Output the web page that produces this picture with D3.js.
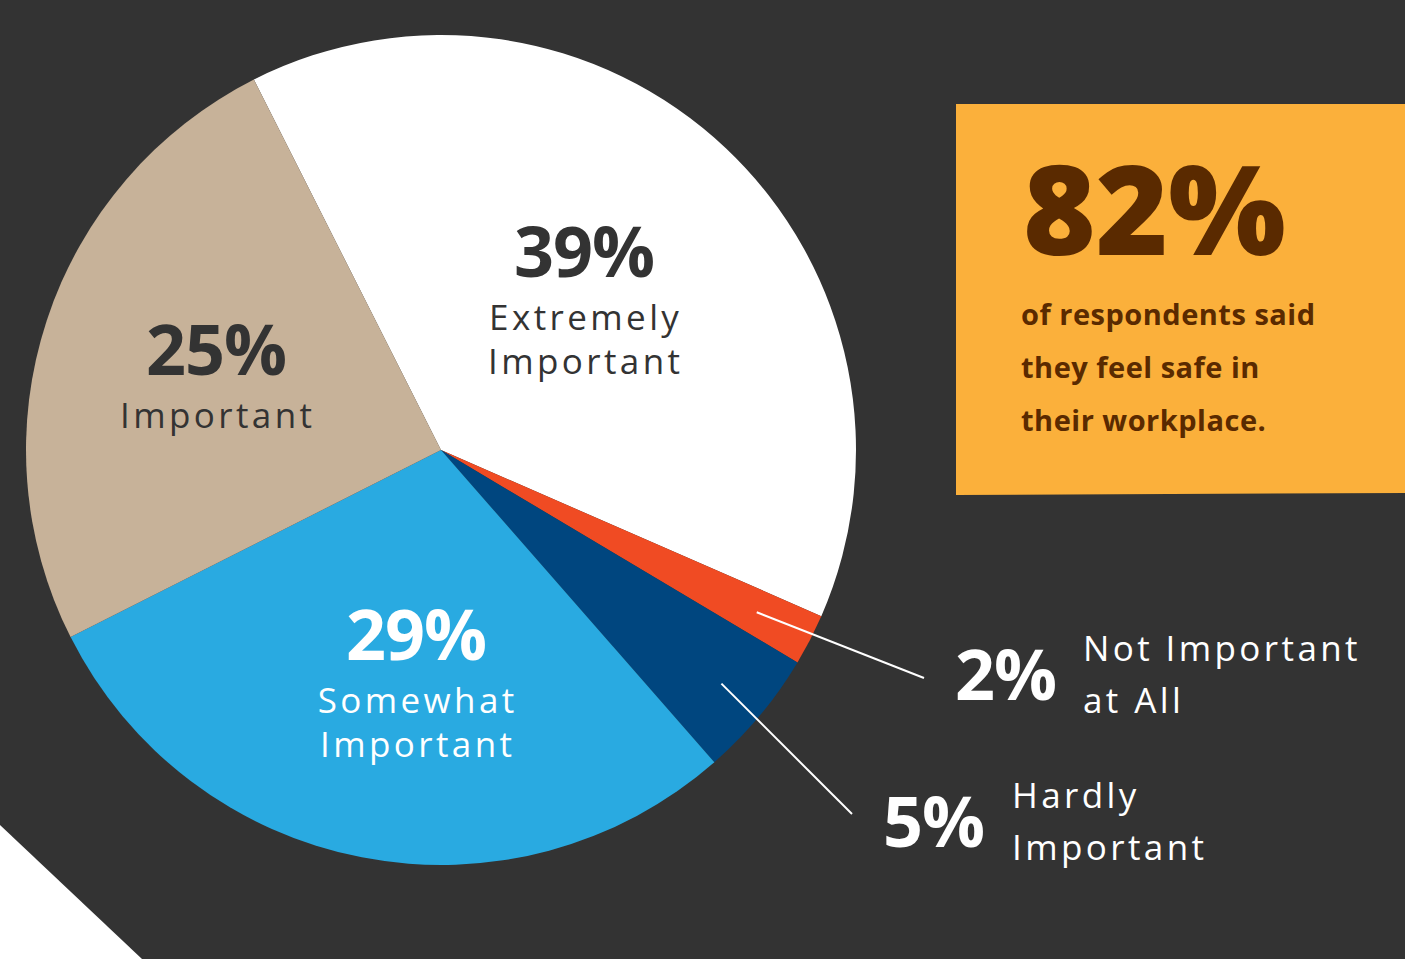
<!DOCTYPE html>
<html>
<head>
<meta charset="utf-8">
<script src="https://cdn.jsdelivr.net/npm/d3@7"></script>
<style>
  html, body { margin: 0; padding: 0; background: #333333; overflow: hidden; }
  text { font-family: "Open Sans", sans-serif; }
</style>
</head>
<body>
<div class="chart"></div>
<script>
// data
const categories = ["Extremely Important", "Not Important at All", "Hardly Important", "Somewhat Important", "Important"];
const values = [39, 2, 5, 29, 25];
const colors = ["#ffffff", "#f04b23", "#00467f", "#29aae1", "#c7b299"];
const pctLabels = ["39%", "2%", "5%", "29%", "25%"];
const nameLines = [["Extremely", "Important"], ["Not Important", "at All"], ["Hardly", "Important"], ["Somewhat", "Important"], ["Important"]];
const calloutValue = "82%";
const calloutLines = ["of respondents said", "they feel safe in", "their workplace."];

(function(){
    const svgWidth = 1405, svgHeight = 959;
    const cx = 441, cy = 450, radius = 415;

    const svg = d3.select(".chart")
        .append("svg")
        .attr("width", svgWidth)
        .attr("height", svgHeight);

    // background
    svg.append("rect").attr("width", svgWidth).attr("height", svgHeight).attr("fill", "#333333");
    svg.append("path").attr("d", "M0,825 L142,959 L0,959 Z").attr("fill", "#ffffff");

    // orange callout box
    svg.append("path")
        .attr("d", "M956,104 L1405,104 L1405,493 L956,495 Z")
        .attr("fill", "#fbb03b");

    const box = svg.append("g").attr("fill", "#5a2a00").attr("font-weight", 700);
    box.append("text")
        .attr("x", 1023).attr("y", 255)
        .attr("font-size", 124)
        .attr("font-weight", 800)
        .text(calloutValue);
    box.selectAll(".cl")
        .data(calloutLines)
        .enter().append("text")
        .attr("class", "cl")
        .attr("x", 1021)
        .attr("y", (d, i) => 325 + i * 53)
        .attr("font-size", 29)
        .attr("letter-spacing", 0.5)
        .text(d => d);

    // pie
    const startAngle = -26.8 * Math.PI / 180;
    const pie = d3.pie().sort(null).value(d => d)
        .startAngle(startAngle).endAngle(startAngle + 2 * Math.PI);
    const arcs = pie(values);
    const arc = d3.arc().innerRadius(0).outerRadius(radius);

    const g = svg.append("g").attr("transform", `translate(${cx}, ${cy})`);
    g.selectAll("path.slice")
        .data(arcs)
        .enter().append("path")
        .attr("class", "slice")
        .attr("d", arc)
        .attr("fill", (d, i) => colors[i]);

    const nameSize = 35, nameSpacing = 3.4;

    // labels inside big slices
    const inside = [
        { i: 0, x: 584, y: 277, fill: "#333333" },
        { i: 4, x: 216, y: 375, fill: "#333333" },
        { i: 3, x: 416, y: 660, fill: "#ffffff" }
    ];
    inside.forEach(o => {
        const t = svg.append("g").attr("fill", o.fill).attr("text-anchor", "middle");
        t.append("text").attr("x", o.x).attr("y", o.y)
            .attr("font-size", 70).attr("font-weight", 700)
            .attr("letter-spacing", -1)
            .text(pctLabels[o.i]);
        nameLines[o.i].forEach((line, k) => {
            t.append("text").attr("x", o.x + nameSpacing / 2).attr("y", o.y + 53 + k * 44)
                .attr("font-size", nameSize).attr("letter-spacing", nameSpacing)
                .text(line);
        });
    });

    // leader lines for small slices
    const outside = [
        { i: 1, r0: 355, end: [924, 678], px: 955, py: 700, nx: 1083, ny: 661 },
        { i: 2, r0: 365, end: [852, 814], px: 883, py: 847, nx: 1012, ny: 808 }
    ];
    outside.forEach(o => {
        const a = arcs[o.i];
        const mid = (a.startAngle + a.endAngle) / 2;
        const sx = cx + o.r0 * Math.sin(mid), sy = cy - o.r0 * Math.cos(mid);
        svg.append("line")
            .attr("x1", sx).attr("y1", sy)
            .attr("x2", o.end[0]).attr("y2", o.end[1])
            .attr("stroke", "#ffffff").attr("stroke-width", 2);
        svg.append("text").attr("x", o.px).attr("y", o.py)
            .attr("fill", "#ffffff").attr("font-size", 70).attr("font-weight", 700)
            .attr("letter-spacing", -1)
            .text(pctLabels[o.i]);
        nameLines[o.i].forEach((line, k) => {
            svg.append("text").attr("x", o.nx).attr("y", o.ny + k * 52)
                .attr("fill", "#ffffff").attr("font-size", nameSize).attr("letter-spacing", nameSpacing)
                .text(line);
        });
    });
})()
</script>
</body>
</html>
